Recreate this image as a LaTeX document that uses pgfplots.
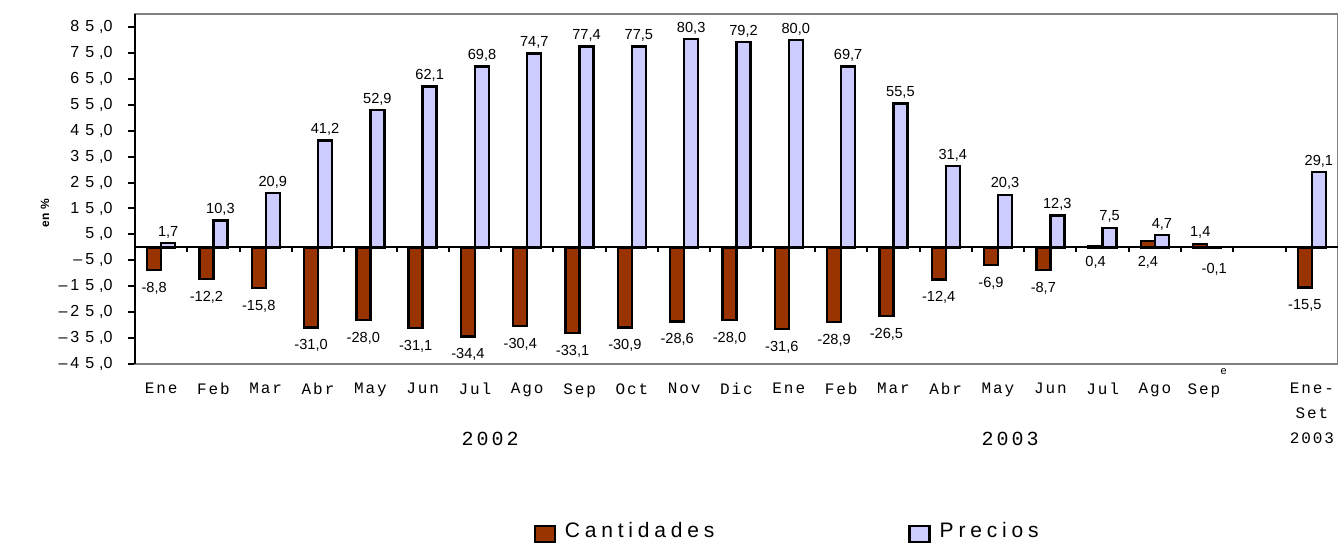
\documentclass[border=0pt]{standalone}
\usepackage{fontspec}
\setmainfont{Liberation Sans}
\newfontfamily\monofont[LetterSpace=12]{Liberation Mono}
\newfontfamily\yearfont[LetterSpace=15]{Liberation Mono}
\newfontfamily\legfont[LetterSpace=23]{Liberation Sans}
\usepackage{pgfplots}
\usepackage{pgfplotstable}
\pgfplotsset{compat=1.18}
\definecolor{cant}{HTML}{993300}
\definecolor{prec}{HTML}{CCCCFF}
\newcommand{\tlb}[2]{#1\kern3pt#2\kern2.5pt,0}
\newcommand{\tla}[1]{#1\kern2.5pt,0}

% shifts: vertical offset (pt) of label centre from bar end
\pgfplotstableread{
x cant cansh prec psh
0 -8.8 -9 1.7 5.5
1 -12.2 -9 10.3 5.5
2 -15.8 -9 20.9 5.5
3 -31.0 -9 41.2 5.5
4 -28.0 -9 52.9 5.5
5 -31.1 -9 62.1 5.5
6 -34.4 -9 69.8 5.5
7 -30.4 -9 74.7 5.5
8 -33.1 -9 77.4 5.5
9 -30.9 -9 77.5 5.5
10 -28.6 -9 80.3 5.5
11 -28.0 -9 79.2 5.5
12 -31.6 -9 80.0 5.5
13 -28.9 -9 69.7 5.5
14 -26.5 -9 55.5 5.5
15 -12.4 -9 31.4 5.5
16 -6.9 -9 20.3 5.5
17 -8.7 -9 12.3 5.5
18 0.4 -8 7.5 5.5
19 2.4 -10.5 4.7 5.5
20 1.4 5.5 -0.1 -11
22 -15.5 -9 29.1 5.5
}\data

\begin{document}
\begin{tikzpicture}
\useasboundingbox (-67.5pt,-90pt) rectangle (601.5pt,182pt);
\begin{axis}[
  scale only axis, width=601.5pt, height=175pt,
  at={(0pt,0pt)}, anchor=south west,
  xmin=-0.5, xmax=22.5, ymin=-45, ymax=90,
  ybar=0pt, bar width=7pt,
  clip=false,
  axis line style={draw=gray, line width=0.6pt},
  xtick={0,...,20,22},
  xticklabels={Ene,Feb,Mar,Abr,May,Jun,Jul,Ago,Sep,Oct,Nov,Dic,Ene,Feb,Mar,Abr,May,Jun,Jul,Ago,{Sep\smash{\raisebox{10pt}{\fontsize{5.5}{6}\selectfont e}}},{Ene-\\Set\\2003}},
  x tick style={draw=none},
  xticklabel style={font=\monofont\fontsize{8}{12.5}\selectfont, anchor=north, inner sep=0pt, yshift=-6pt, align=center},
  ytick={-45,-35,...,85},
  yticklabels={{–\kern1.5pt\tlb45},{–\kern1.5pt\tlb35},{–\kern1.5pt\tlb25},{–\kern1.5pt\tlb15},{–\kern1.5pt\tla5},{\tla5},{\tlb15},{\tlb25},{\tlb35},{\tlb45},{\tlb55},{\tlb65},{\tlb75},{\tlb85}},
  y tick style={black, line width=1pt},
  tick align=outside, major tick length=3.5pt,
  yticklabel style={font=\fontsize{8}{9}\selectfont, inner sep=0pt, xshift=-7.5pt},
  legend columns=2,
  legend style={at={(0.326,-0.478)}, anchor=west, draw=none, fill=none,
    font=\legfont\fontsize{10.5}{12}\selectfont,
    /tikz/every even column/.append style={column sep=95pt}},
  nodes near coords={\pgfmathprintnumber[fixed,fixed zerofill,precision=1,use comma,assume math mode=true]{\pgfplotspointmeta}},
  point meta=y,
]
\addplot[fill=cant, draw=black, line width=1.2pt,
  legend image code/.code={\draw[fill=cant,draw=black,line width=1.2pt] (0pt,-5.5pt) rectangle (10pt,2.5pt); \path[draw=none,fill=none] (0pt,0pt) -- (13pt,0pt);},
  visualization depends on={\thisrow{cansh} \as \mysh},
  every node near coord/.append style={font=\fontsize{7.3}{8}\selectfont, inner sep=0pt, anchor=center, yshift=\mysh pt, black}
] table[x=x, y=cant] {\data};
\addlegendentry{Cantidades}
\addplot[fill=prec, draw=black, line width=1.2pt,
  legend image code/.code={\draw[fill=prec,draw=black,line width=1.2pt] (0pt,-5.5pt) rectangle (10pt,2.5pt); \path[draw=none,fill=none] (0pt,0pt) -- (13pt,0pt);},
  visualization depends on={\thisrow{psh} \as \mysh},
  every node near coord/.append style={font=\fontsize{7.3}{8}\selectfont, inner sep=0pt, anchor=center, yshift=\mysh pt, black}
] table[x=x, y=prec] {\data};
\addlegendentry{Precios}
\draw[black, line width=1pt] (axis cs:-0.5,0) -- (axis cs:22.5,0);
\pgfplotsinvokeforeach{0,...,21}{\draw[black, line width=1pt] (axis cs:#1.5,0) -- ++(0pt,-2.5pt);}
\draw[black, line width=1pt] (rel axis cs:0,0) -- (rel axis cs:0,1);
\node[font=\yearfont\fontsize{10}{12}\selectfont] at (axis cs:6.29,-73.9) {2002};
\node[font=\yearfont\fontsize{10}{12}\selectfont] at (axis cs:16.23,-73.9) {2003};
\node[rotate=90, font=\bfseries\fontsize{6}{7}\selectfont] at ([xshift=-45pt]axis cs:-0.5,13.2) {en \%};
\end{axis}
\end{tikzpicture}
\end{document}
